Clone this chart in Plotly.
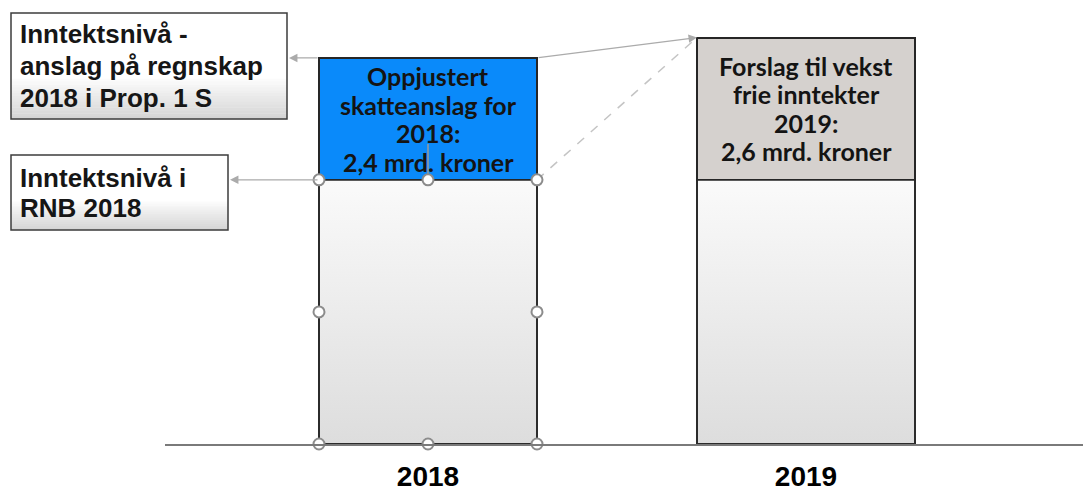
import plotly.graph_objects as go

# ---- data ----
years = ["2018", "2019"]
base_level = [5.2, 5.2]          # income level (RNB 2018), schematic height
increase = [2.4, 2.8]            # growth segment heights as drawn
increase_labels = [
    "Oppjustert<br>skatteanslag for<br>2018:<br>2,4 mrd. kroner",
    "Forslag til vekst<br>frie inntekter<br>2019:<br>2,6 mrd. kroner",
]
increase_colors = ["#0a8afa", "#d5d1ce"]
box_labels = [
    "Inntektsnivå -<br>anslag på regnskap<br>2018 i Prop. 1 S",
    "Inntektsnivå i<br>RNB 2018",
]

# ---- layout geometry (page pixels; the page body adds an 8px offset) ----
OFF = 8
W, H = 1091 - OFF, 492 - OFF
L, R, T = 165 - OFF, 0, 0
PW = W - L - R
PH = 444 - OFF - T
B = H - T - PH
PX_PER_CAT = 378.0
X0 = -(428 - OFF - L) / PX_PER_CAT
X1 = X0 + PW / PX_PER_CAT
PX_PER_Y = 50.8
Y1 = PH / PX_PER_Y
BAR_W = 218 / PX_PER_CAT

def xd(px):  # page pixel -> data x
    return X0 + (px - OFF - L) / PX_PER_CAT

def yd(py):  # page pixel -> data y
    return (T + PH - (py - OFF)) / PX_PER_Y

def xp(px):  # page pixel -> paper x
    return (px - OFF - L) / PW

def yp(py):  # page pixel -> paper y
    return (T + PH - (py - OFF)) / PH

xpos = list(range(len(years)))
tops = [b + i for b, i in zip(base_level, increase)]

fig = go.Figure()

fig.add_trace(go.Bar(
    x=xpos, y=base_level, width=BAR_W,
    marker=dict(color="rgba(0,0,0,0)", line=dict(color="#2b2b2b", width=2)),
    showlegend=False, hoverinfo="skip",
))
fig.add_trace(go.Bar(
    x=xpos, y=increase, width=BAR_W,
    marker=dict(color=increase_colors, line=dict(color="#262626", width=2)),
    showlegend=False, hoverinfo="skip",
))

# gradient fill for base bars (inset so the bar outline stays visible)
gx, gy = [], []
ix, iy = 1.0 / PX_PER_CAT, 1.0 / PX_PER_Y
for x, b in zip(xpos, base_level):
    l, r = x - BAR_W / 2 + ix, x + BAR_W / 2 - ix
    gx += [l, r, r, l, l, None]
    gy += [iy, iy, b - iy, b - iy, iy, None]
fig.add_trace(go.Scatter(
    x=gx, y=gy, mode="lines", fill="toself", line=dict(width=0),
    fillgradient=dict(type="vertical",
                      colorscale=[[0, "#dddddd"], [1, "#fafafa"]]),
    hoverinfo="skip", showlegend=False,
))

# selection handles on the 2018 base bar
hx0 = xpos[0]
l0, r0 = hx0 - BAR_W / 2, hx0 + BAR_W / 2
b0 = base_level[0]
fig.add_trace(go.Scatter(
    x=[hx0, hx0], y=[b0, yd(144)], mode="lines",
    line=dict(color="#9a9a9a", width=1.5), hoverinfo="skip", showlegend=False,
))
fig.add_trace(go.Scatter(
    x=[l0, hx0, r0, l0, r0, l0, hx0, r0],
    y=[b0, b0, b0, b0 / 2, b0 / 2, 0, 0, 0],
    mode="markers",
    marker=dict(symbol="circle", size=11, color="white",
                line=dict(color="#8c8c8c", width=2)),
    hoverinfo="skip", showlegend=False, cliponaxis=False,
))

# text inside growth segments, one line at a time
LINE_PX = 28.5
for x, b, inc, lab in zip(xpos, base_level, increase, increase_labels):
    lines = lab.split("<br>")
    n = len(lines)
    for k, t in enumerate(lines):
        fig.add_annotation(
            x=x, y=b + inc / 2, xref="x", yref="y", text=t, showarrow=False,
            yshift=-(k - (n - 1) / 2) * LINE_PX, yanchor="middle",
            font=dict(family="Lato", size=25, color="#141414", weight="bold"),
        )

# dashed connector
fig.add_shape(type="line", xref="x", yref="y",
              x0=xpos[0] + BAR_W / 2, y0=base_level[0],
              x1=xpos[1] - BAR_W / 2, y1=tops[1],
              line=dict(color="#c4c4c4", width=1.5, dash="dash"), layer="below")

# arrows
ARROW = dict(showarrow=True, arrowhead=2, arrowsize=1.3, arrowwidth=1.3,
             arrowcolor="#ababab", text="", xref="x", yref="y",
             axref="x", ayref="y")
fig.add_annotation(x=xd(289), y=tops[0], ax=xpos[0] - BAR_W / 2, ay=tops[0], **ARROW)
fig.add_annotation(x=xd(230), y=base_level[0], ax=xpos[0] - BAR_W / 2, ay=base_level[0], **ARROW)
fig.add_annotation(x=xpos[1] - BAR_W / 2, y=tops[1], ax=xpos[0] + BAR_W / 2, ay=tops[0], **ARROW)

# left label boxes with gradient
boxes = [(11, 13, 287, 119), (11, 155, 228, 230)]
box_line_centers = [[34, 66, 98], [178, 208]]

def mix(c0, c1, t):
    return "rgb(%d,%d,%d)" % tuple(round(a + (b - a) * t) for a, b in zip(c0, c1))

for (x0, y0, x1, y1), lab, centers in zip(boxes, box_labels, box_line_centers):
    h = y1 - y0
    fig.add_shape(type="rect", xref="paper", yref="paper",
                  x0=xp(x0), x1=xp(x1), y0=yp(y1), y1=yp(y0),
                  fillcolor="white", line=dict(width=0))
    g0 = y0 + 0.62 * h
    nstrip = 14
    step = (y1 - g0) / nstrip
    for s in range(nstrip):
        t = (s + 0.5) / nstrip
        fig.add_shape(type="rect", xref="paper", yref="paper",
                      x0=xp(x0), x1=xp(x1),
                      y0=yp(g0 + (s + 1) * step + 0.3), y1=yp(g0 + s * step),
                      fillcolor=mix((252, 252, 252), (212, 212, 212), t),
                      line=dict(width=0))
    fig.add_shape(type="rect", xref="paper", yref="paper",
                  x0=xp(x0), x1=xp(x1), y0=yp(y1), y1=yp(y0),
                  fillcolor="rgba(0,0,0,0)", line=dict(color="#3c3c3c", width=1.5))
    for t, cy in zip(lab.split("<br>"), centers):
        fig.add_annotation(x=xp(x0 + 7), y=yp(cy), xref="paper", yref="paper",
                           xanchor="left", yanchor="middle", align="left",
                           text=t, showarrow=False,
                           font=dict(family="Liberation Sans", size=26, color="#161616",
                                     weight="bold"))

fig.update_layout(
    width=W, height=H,
    margin=dict(l=L, r=R, t=T, b=B, autoexpand=False),
    plot_bgcolor="white", paper_bgcolor="white",
    barmode="stack",
    xaxis=dict(range=[X0, X1], tickvals=xpos, ticktext=years,
               showgrid=False, zeroline=False, showline=True, automargin=False,
               linecolor="#7a7a7a", linewidth=2, ticks="",
               ticklabelstandoff=6,
               tickfont=dict(family="Liberation Sans", size=28, color="black",
                             weight="bold")),
    yaxis=dict(range=[0, Y1], visible=False, showgrid=False, zeroline=False,
               automargin=False),
    showlegend=False,
)

fig.write_html("out.html")
